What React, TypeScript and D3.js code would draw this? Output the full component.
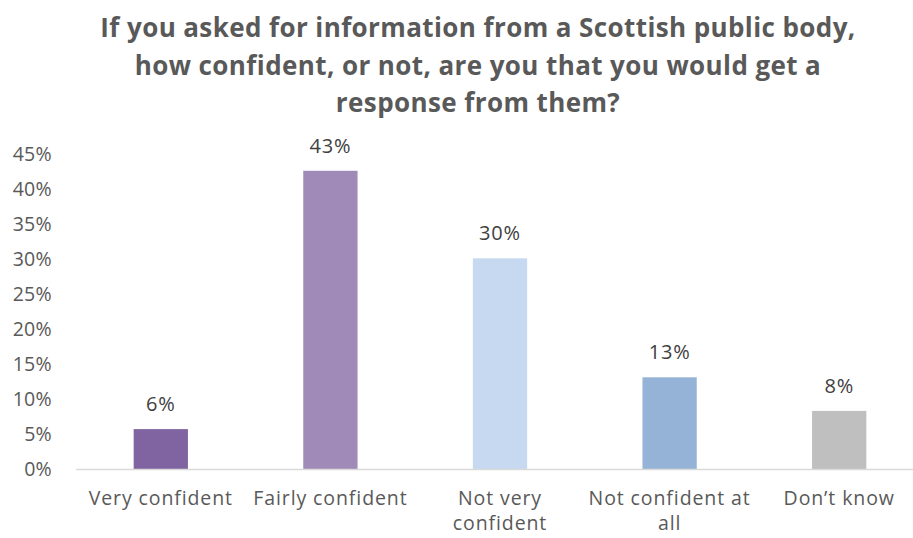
import React from "react";
import * as d3 from "d3";

const categories = ["Very confident", "Fairly confident", "Not very confident", "Not confident at all", "Don\u2019t know"];
const categoryLines = [["Very confident"], ["Fairly confident"], ["Not very", "confident"], ["Not confident at", "all"], ["Don\u2019t know"]];
const values = [0.057, 0.426, 0.301, 0.131, 0.083];
const valueLabels = ["6%", "43%", "30%", "13%", "8%"];
const colors = ["#8064A2", "#A08AB8", "#C6D9F1", "#95B3D7", "#BFBFBF"];
const yTicks = [0, 0.05, 0.1, 0.15, 0.2, 0.25, 0.3, 0.35, 0.4, 0.45];
const titleLines = [
  "If you asked for information from a Scottish public body,",
  "how confident, or not, are you that you would get a",
  "response from them?",
];

export default function App() {
  const W = 913, H = 538;
  const x = d3.scaleBand().domain(categories).range([76, 924]).paddingInner(0.68).paddingOuter(0.34);
  const y = d3.scaleLinear().domain([0, 0.45]).range([469, 154]);
  const font = "'Open Sans', sans-serif";
  const gray = "#595959";
  return (
    <svg width={W} height={H} style={{ position: "absolute", left: 0, top: 0, background: "#fff" }}>
      {titleLines.map((t, i) => (
        <text key={i} x={478} y={37 + i * 37.5} textAnchor="middle" fontFamily={font} fontWeight={700} fontSize={26} letterSpacing={0.4} fill={gray}>{t}</text>
      ))}
      {yTicks.map((t) => (
        <text key={t} x={52} y={y(t)} dy="0.35em" textAnchor="end" fontFamily={font} fontSize={19.5} letterSpacing={0.3} fill={gray}>{d3.format(".0%")(t)}</text>
      ))}
      {categories.map((c, i) => (
        <rect key={c} x={x(c)} y={y(values[i])} width={x.bandwidth()} height={y(0) - y(values[i])} fill={colors[i]} />
      ))}
      <line x1={76} x2={913} y1={y(0) + 0.5} y2={y(0) + 0.5} stroke="#D9D9D9" strokeWidth={1.5} />
      {categories.map((c, i) => (
        <text key={c} x={(x(c) as number) + x.bandwidth() / 2} y={y(values[i]) - 18} textAnchor="middle" fontFamily={font} fontSize={20} letterSpacing={0.8} fill="#404040">{valueLabels[i]}</text>
      ))}
      {categories.map((c, i) => (
        <text key={c} x={(x(c) as number) + x.bandwidth() / 2} y={505} textAnchor="middle" fontFamily={font} fontSize={19.5} letterSpacing={0.9} fill={gray}>
          {categoryLines[i].map((l, j) => (
            <tspan key={j} x={(x(c) as number) + x.bandwidth() / 2} dy={j === 0 ? 0 : 25}>{l}</tspan>
          ))}
        </text>
      ))}
    </svg>
  );
}
